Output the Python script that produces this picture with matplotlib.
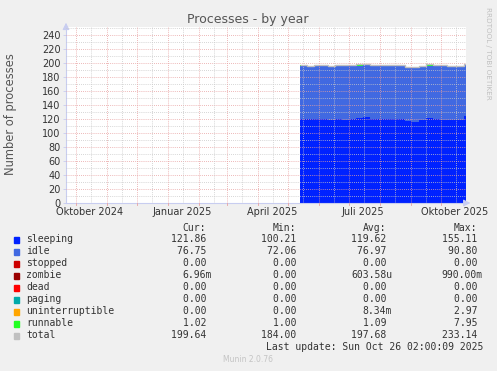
import numpy as np
import pandas as pd
import matplotlib
matplotlib.use("Agg")
import matplotlib.pyplot as plt
import matplotlib.dates as mdates

W, H = 497, 371

# weekly averages (data only starts mid May 2025)
dates = ['2025-05-13', '2025-05-20', '2025-05-27', '2025-06-03', '2025-06-10',
         '2025-06-17', '2025-06-24', '2025-07-01', '2025-07-08', '2025-07-15',
         '2025-07-22', '2025-07-29', '2025-08-05', '2025-08-12', '2025-08-19',
         '2025-08-26', '2025-09-02', '2025-09-09', '2025-09-16', '2025-09-23',
         '2025-09-30', '2025-10-07', '2025-10-14', '2025-10-21', '2025-10-24']
end_date = '2025-10-26 02:00'
start_date = '2024-09-21 02:00'

sleeping = [120.3, 119.8, 120.5, 119.6, 119.2, 119.8, 119.5, 120.2, 121.8, 122.5,
            120.4, 119.9, 120.1, 119.7, 120.3, 117.2, 116.6, 118.8, 121.9, 120.6,
            119.4, 119.0, 118.6, 119.2, 124.0]
idle = [75.4, 75.6, 75.4, 76.6, 76.4, 76.2, 76.5, 76.5, 74.8, 74.8,
        76.0, 76.3, 75.8, 76.2, 75.7, 76.4, 76.6, 76.1, 74.4, 75.9,
        76.5, 76.4, 75.9, 76.0, 74.6]
runnable = [1.3, 1.1, 2.4, 1.0, 1.2, 1.5, 1.0, 1.1, 2.8, 1.6,
            1.2, 1.0, 1.1, 1.0, 1.3, 1.0, 1.2, 1.1, 2.5, 1.4,
            1.1, 1.0, 1.3, 1.0, 1.0]

legend_names = ['sleeping', 'idle', 'stopped', 'zombie', 'dead', 'paging',
                'uninterruptible', 'runnable', 'total']
legend_cols = ['#0022ff', '#4169e1', '#cc0000', '#990000', '#ff0000', '#00aaaa',
               '#ffa500', '#22ff22', '#c0c0c0']
cur = ['121.86', '76.75', '0.00', '6.96m', '0.00', '0.00', '0.00', '1.02', '199.64']
mins = ['100.21', '72.06', '0.00', '0.00', '0.00', '0.00', '0.00', '1.00', '184.00']
avgs = ['119.62', '76.97', '0.00', '603.58u', '0.00', '0.00', '8.34m', '1.09', '197.68']
maxs = ['155.11', '90.80', '0.00', '990.00m', '0.00', '0.00', '2.97', '7.95', '233.14']

month_labels = ['Oktober 2024', 'Januar 2025', 'April 2025', 'Juli 2025', 'Oktober 2025']
month_label_pos = ['2024-10-15', '2025-01-15', '2025-04-15', '2025-07-15', '2025-10-15']

bg = '#f0f0f0'
txt = '#333333'

fig = plt.figure(figsize=(W / 100, H / 100), dpi=100, facecolor=bg)
x0, x1, ytop, ybot = 66, 466, 27, 203
ax = fig.add_axes([x0 / W, 1 - ybot / H, (x1 - x0) / W, (ybot - ytop) / H])
ax.set_facecolor('white')

edges = mdates.date2num(pd.to_datetime(dates).tolist() + [pd.Timestamp(end_date)])
s = np.array(sleeping)
i = np.array(idle)
r = np.array(runnable)
ax.stairs(s, edges, baseline=0, fill=True, color='#0022ff', zorder=2)
ax.stairs(s + i, edges, baseline=s, fill=True, color='#4169e1', zorder=2)
ax.stairs(s + i + r, edges, baseline=s + i, fill=True, color='#22ff22', zorder=2)
ax.stairs(s + i + r, edges, baseline=None, color='#c0c0c0', lw=1, zorder=3)

xmin = mdates.date2num(pd.Timestamp(start_date))
xmax = mdates.date2num(pd.Timestamp(end_date))
ax.set_xlim(xmin, xmax)
ax.set_ylim(0, 252)

# grid on top of data, like rrdtool
for v in range(10, 260, 20):
    ax.axhline(v, color='#c8c8c8', lw=0.6, ls=(0, (1, 1.5)), zorder=4)
for v in range(20, 260, 20):
    ax.axhline(v, color='#e8a0a0', lw=0.6, ls=(0, (1, 1.5)), zorder=4)
months = pd.date_range('2024-10-01', '2025-10-01', freq='MS')
for m in months:
    mid = mdates.date2num(m + pd.Timedelta(days=15))
    if mid < xmax:
        ax.axvline(mid, color='#c8c8c8', lw=0.6, ls=(0, (1, 1.5)), zorder=4)
    ax.axvline(mdates.date2num(m), color='#e8a0a0', lw=0.6, ls=(0, (1, 1.5)), zorder=4)

for sp in ['top', 'right']:
    ax.spines[sp].set_visible(False)
for sp in ['left', 'bottom']:
    ax.spines[sp].set_color('#c8cdf0')
    ax.spines[sp].set_linewidth(0.8)

ax.set_yticks(range(0, 241, 20))
ax.tick_params(axis='y', length=2, width=0.6, color='#c8cdf0', labelsize=7,
               labelcolor=txt, pad=2)
ax.set_xticks(mdates.date2num(pd.to_datetime(month_label_pos)))
ax.set_xticklabels(month_labels)
ax.tick_params(axis='x', length=0, labelsize=7, labelcolor=txt, pad=3)
for m in months:
    ax.plot([mdates.date2num(m)] * 2, [-2.5, 0], color='#e8a0a0', lw=0.6,
            clip_on=False, zorder=5)

# axis arrows
ax.annotate('', xy=(0, 1.04), xytext=(0, 0.97), xycoords='axes fraction',
            arrowprops=dict(arrowstyle='-|>,head_length=0.4,head_width=0.2',
                            color='#c8cdf0', lw=0.8))
ax.annotate('', xy=(1.018, 0), xytext=(0.995, 0), xycoords='axes fraction',
            arrowprops=dict(arrowstyle='-|>,head_length=0.4,head_width=0.2',
                            color='#c8cdf0', lw=0.8))

def ft(x, y, s, **kw):
    fig.text(x / W, 1 - y / H, s, **kw)

ft(248, 19, 'Processes - by year', ha='center', va='center', fontsize=9, color='#555555')
ft(11, 114, 'Number of processes', ha='center', va='center', rotation=90,
   fontsize=8.3, color='#555555')
ft(488, 53, 'RRDTOOL / TOBI OETIKER', ha='center', va='center', rotation=-90,
   fontsize=5.2, color='#c0c0c0')

mono = dict(family='DejaVu Sans Mono', fontsize=7, color=txt, va='center')
col_right = [212, 302, 392, 483]
for h, xr in zip(['Cur:', 'Min:', 'Avg:', 'Max:'], col_right):
    ft(xr - 6, 228, h, ha='right', **mono)

row_y = 239.5
for k, name in enumerate(legend_names):
    y = row_y + k * 12
    fig.patches.append(plt.Rectangle((14 / W, 1 - (y + 3) / H), 5 / W, 6 / H,
                                     transform=fig.transFigure,
                                     color=legend_cols[k], figure=fig))
    ft(26, y, name, ha='left', **mono)
    for vals, xr in zip([cur, mins, avgs, maxs], col_right):
        v = vals[k]
        if v[-1] not in 'mu':
            v = v + ' '
        ft(xr, y, v, ha='right', **mono)

ft(483, 347.5, 'Last update: Sun Oct 26 02:00:09 2025', ha='right', **mono)
ft(248, 360, 'Munin 2.0.76', ha='center', va='center', fontsize=5.5, color='#c4c4c4')

fig.savefig('out.png', dpi=100, facecolor=bg)
